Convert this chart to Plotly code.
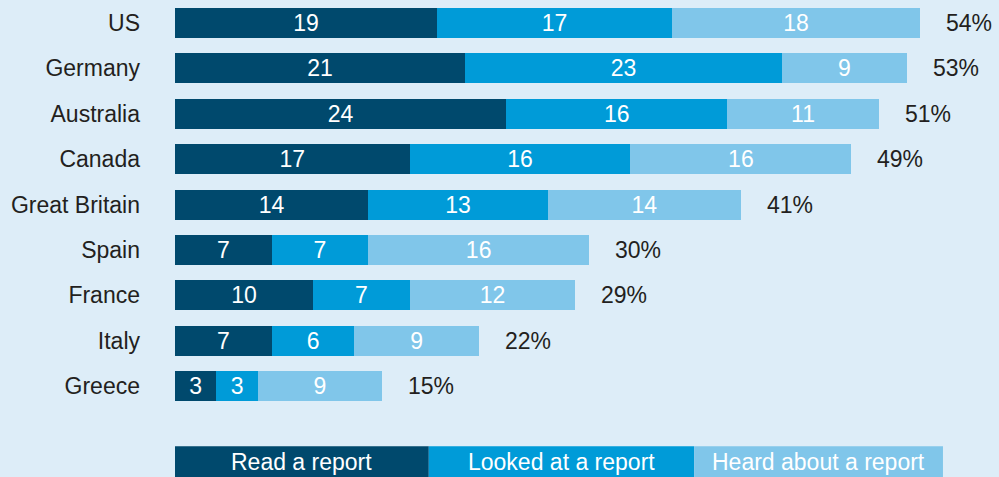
import plotly.graph_objects as go

countries = ["US", "Germany", "Australia", "Canada", "Great Britain", "Spain", "France", "Italy", "Greece"]
read_report = [19, 21, 24, 17, 14, 7, 10, 7, 3]
looked_report = [17, 23, 16, 16, 13, 7, 7, 6, 3]
heard_report = [18, 9, 11, 16, 14, 16, 12, 9, 9]
totals = [54, 53, 51, 49, 41, 30, 29, 22, 15]
series_names = ["Read a report", "Looked at a report", "Heard about a report"]
colors = ["#00496d", "#009bd8", "#80c6ea"]

BG = "#ddedf8"
FONT = "Liberation Sans"
FS = 23

fig = go.Figure()
for name, vals, col in zip(series_names, [read_report, looked_report, heard_report], colors):
    fig.add_trace(go.Bar(
        y=countries, x=vals, orientation="h", name=name,
        marker=dict(color=col, line=dict(width=0)),
        text=[str(v) for v in vals], textposition="inside", textangle=0,
        insidetextanchor="middle", constraintext="none",
        textfont=dict(color="white", size=FS, family=FONT),
        width=0.66, showlegend=False, hoverinfo="skip",
    ))

for c, t in zip(countries, totals):
    fig.add_annotation(x=t, y=c, text=f"{t}%", showarrow=False, xanchor="left",
                       xshift=24, font=dict(size=FS, color="#231f20", family=FONT))

# legend boxes
legend_x = [0.0, 0.308, 0.630, 0.932]
y0, y1 = -0.167, -0.0913
for i, (name, col) in enumerate(zip(series_names, colors)):
    fig.add_shape(type="rect", xref="paper", yref="paper", x0=legend_x[i], x1=legend_x[i + 1],
                  y0=y0, y1=y1, fillcolor=col, line=dict(width=0), layer="above")
    fig.add_annotation(xref="paper", yref="paper", x=(legend_x[i] + legend_x[i + 1]) / 2,
                       y=(y0 + y1) / 2, text=name, showarrow=False, xanchor="center", yanchor="middle",
                       font=dict(size=FS, color="white", family=FONT))

fig.update_layout(
    barmode="stack", width=999, height=477,
    margin=dict(l=175, r=0, t=0, b=68.3),
    paper_bgcolor=BG, plot_bgcolor=BG,
    font=dict(family=FONT, size=FS, color="#231f20"),
    uniformtext=dict(mode=False),
    xaxis=dict(range=[0, 59.7], visible=False, fixedrange=True),
    yaxis=dict(autorange="reversed", showgrid=False, zeroline=False, showline=False, fixedrange=True,
               ticks="", ticklabelstandoff=34, tickfont=dict(size=FS, color="#231f20", family=FONT)),
)

fig.write_html("out.html", config={"displayModeBar": False},
               post_script="document.body.style.margin='0';document.body.style.overflow='hidden';")
